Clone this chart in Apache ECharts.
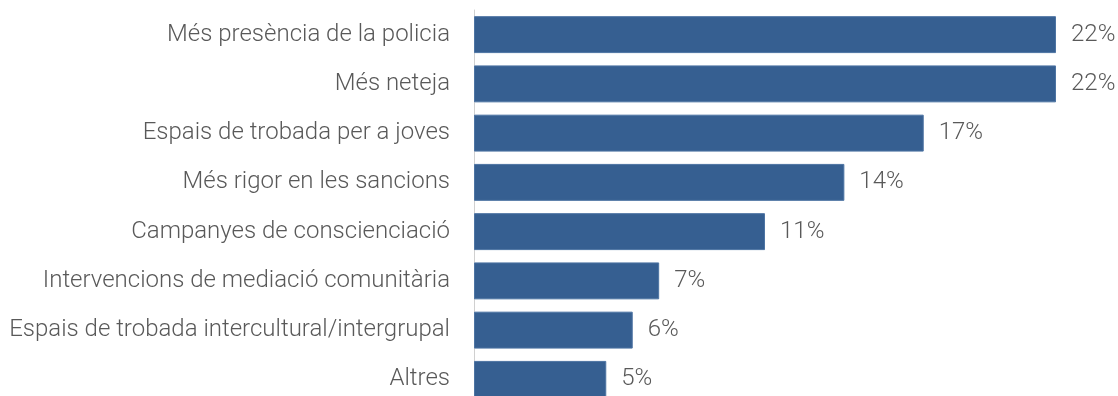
<!DOCTYPE html>
<html>
<head>
<meta charset="utf-8">
<script src="https://cdn.jsdelivr.net/npm/echarts@6/dist/echarts.min.js"></script>
<style>
  html, body { margin: 0; padding: 0; background: #fff; }
  #chart { width: 1118px; height: 396px; }
</style>
</head>
<body>
<div id="chart"></div>
<script>
  var categories = [
    'Més presència de la policia',
    'Més neteja',
    'Espais de trobada per a joves',
    'Més rigor en les sancions',
    'Campanyes de conscienciació',
    'Intervencions de mediació comunitària',
    'Espais de trobada intercultural/intergrupal',
    'Altres'
  ];
  var values = [22, 22, 17, 14, 11, 7, 6, 5];

  var chart = echarts.init(document.getElementById('chart'));
  chart.setOption({
    animation: false,
    grid: { left: 474, right: 62, top: 10, height: 394, outerBoundsMode: 'none', containLabel: false },
    xAxis: {
      type: 'value',
      min: 0,
      max: 22,
      show: false
    },
    yAxis: {
      type: 'category',
      inverse: true,
      data: categories,
      axisLine: { show: true, lineStyle: { color: '#d0d0d0', width: 1 } },
      axisTick: { show: false },
      axisLabel: {
        margin: 24,
        color: '#595959',
        fontFamily: 'Roboto',
        fontWeight: 300,
        fontSize: 24
      }
    },
    series: [{
      type: 'bar',
      data: values,
      barCategoryGap: '25%',
      itemStyle: { color: '#365f91', borderColor: '#4d74a3', borderWidth: 1 },
      label: {
        show: true,
        position: 'right',
        distance: 15,
        formatter: '{c}%',
        color: '#595959',
        fontFamily: 'Roboto',
        fontWeight: 300,
        fontSize: 24
      }
    }]
  });
</script>
</body>
</html>
